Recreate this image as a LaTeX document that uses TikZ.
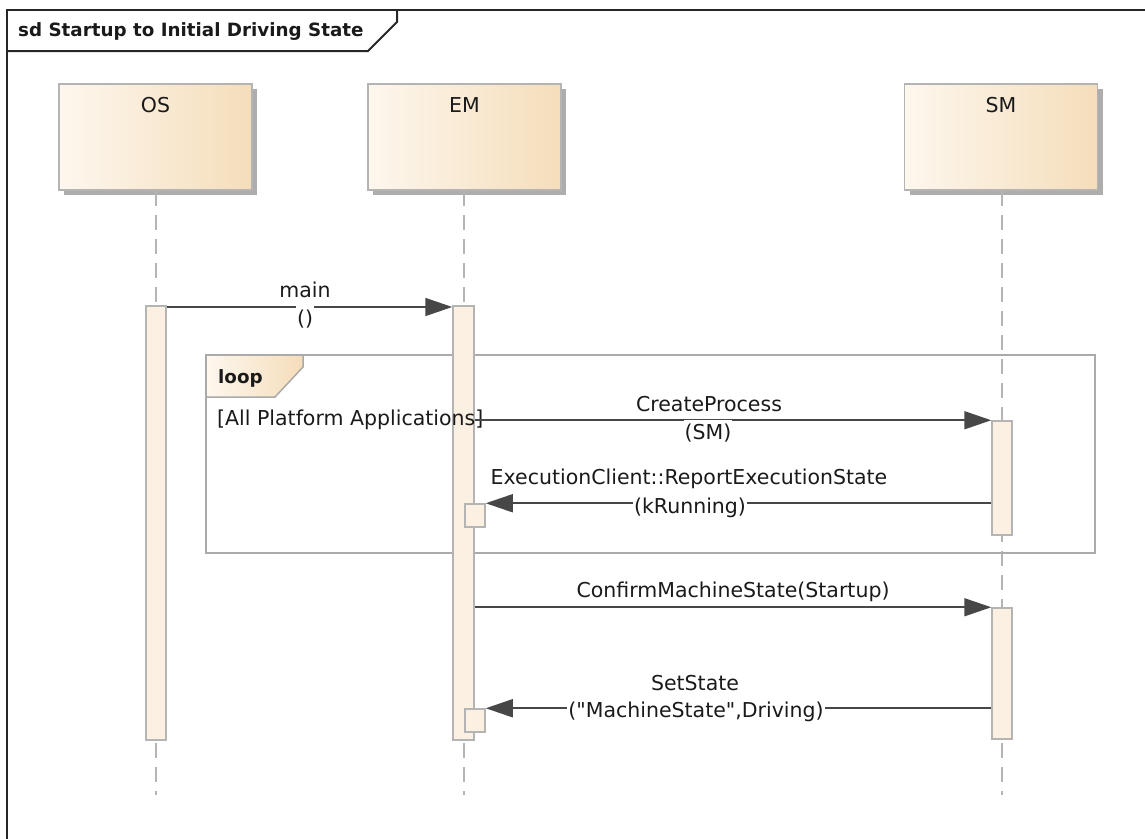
\documentclass[tikz,border=0pt]{standalone}
\usepackage{fontspec}
\setmainfont{DejaVu Sans}
\newfontfamily\qfont{DejaVu Sans}
\usetikzlibrary{arrows.meta,shadows,calc}
\definecolor{headL}{HTML}{FDF7EE}
\definecolor{headR}{HTML}{F5DDBA}
\definecolor{actfill}{HTML}{FBF0E2}
\definecolor{boxgray}{HTML}{B4B4B4}
\definecolor{linegray}{HTML}{474747}
\definecolor{fragray}{HTML}{AAAAAA}
\definecolor{txt}{HTML}{1A1A1A}
\begin{document}
\begin{tikzpicture}[x=1pt,y=-1pt,
  every node/.style={font=\fontsize{20.5}{24}\selectfont, text=txt},
  head/.style={rectangle, draw=boxgray, line width=1.5pt, left color=headL, right color=headR,
    minimum width=193pt, minimum height=106pt, inner sep=0pt,
    drop shadow={shadow xshift=5pt, shadow yshift=-5pt, fill=black!32, opacity=1}},
  headtxt/.style={inner sep=0pt},
  lifeline/.style={draw=boxgray, line width=1.5pt, dash pattern=on 15pt off 9pt},
  act/.style={rectangle, draw=boxgray, fill=actfill, line width=1.5pt, minimum width=20pt, inner sep=0pt},
  msg/.style={draw=linegray, line width=1.7pt, -{Triangle[length=27pt,width=18pt]}},
  args/.style={fill=white, inner xsep=1pt, inner ysep=4pt},
  lbl/.style={inner sep=1pt},
  boldtxt/.style={font=\fontsize{18.3}{22}\selectfont\bfseries},
  frameline/.style={draw=black!85, line width=2pt}
]
\useasboundingbox (0,0) rectangle (1145,838);

% outer frame
\draw[frameline] (7,845) -- (7,10) -- (1152,10);
\draw[frameline] (7,51) -- (368,51) -- (397,22) -- (397,10);
\node[anchor=west, inner sep=0pt, boldtxt] (title) at (18,32) {sd Startup to Initial Driving State};

% lifeline heads
\node[head] (os) at (155.5,137) {};
\node[head] (em) at (464.5,137) {};
\node[head] (sm) at (1001,137) {};
\node[headtxt] (ostxt) at ($(os.north)+(0,22)$) {OS};
\node[headtxt] (emtxt) at ($(em.north)+(0,22)$) {EM};
\node[headtxt] (smtxt) at ($(sm.north)+(0,22)$) {SM};

% lifelines
\coordinate (osend) at (156,795);
\coordinate (emend) at (464,795);
\coordinate (smend) at (1002,795);
\draw[lifeline] (os.south -| osend) -- (osend);
\draw[lifeline] (em.south -| emend) -- (emend);
\draw[lifeline] (sm.south -| smend) -- (smend);

% loop fragment
\draw[draw=fragray, line width=2.5pt] (206,355) rectangle (1095,553);
\draw[draw=fragray, line width=1.5pt, left color=headL, right color=headR]
  (206,355) -- (303,355) -- (303,367) -- (275,397) -- (206,397) -- cycle;
\node[anchor=west, inner sep=0pt, boldtxt] (looptxt) at (218,378) {loop};

% activations
\node[act, minimum height=434pt] (osact) at (156,523) {};
\node[act, minimum width=21pt, minimum height=434pt] (emact) at (463.5,523) {};
\node[act, minimum height=114pt] (sma1) at (1002,478) {};
\node[act, minimum height=131pt] (sma2) at (1002,673.5) {};
\node[act, minimum height=23pt] (rx1) at (475,515.5) {};
\node[act, minimum height=23pt] (rx2) at (475,720.5) {};

% guard
\node[anchor=west, inner sep=0pt] (guard) at (217,420) {[All Platform Applications]};

% messages
\coordinate (m1) at (0,307);
\draw[msg] (osact.east |- m1) -- (emact.west |- m1);
\node[lbl] (l1a) at (305,290) {main};
\node[args] (l1b) at (305,319) {()};

\draw[msg] (emact.east |- sma1.north) -- (sma1.north west);
\node[lbl] (l2a) at (709,404) {CreateProcess};
\node[args] (l2b) at (708,433) {(SM)};

\draw[msg] (sma1.west |- rx1.north) -- (rx1.north east);
\node[lbl] (l3a) at (689,479) {ExecutionClient::ReportExecutionState};
\node[args] (l3b) at (690,508) {(kRunning)};

\draw[msg] (emact.east |- sma2.north) -- (sma2.north west);
\node[lbl] (l4a) at (733,592) {ConfirmMachineState(Startup)};

\draw[msg] (sma2.west |- rx2.north) -- (rx2.north east);
\node[lbl] (l5a) at (695,683) {SetState};
\node[args] (l5b) at (696,712) {({\qfont"}MachineState{\qfont"},Driving)};
\end{tikzpicture}
\end{document}
